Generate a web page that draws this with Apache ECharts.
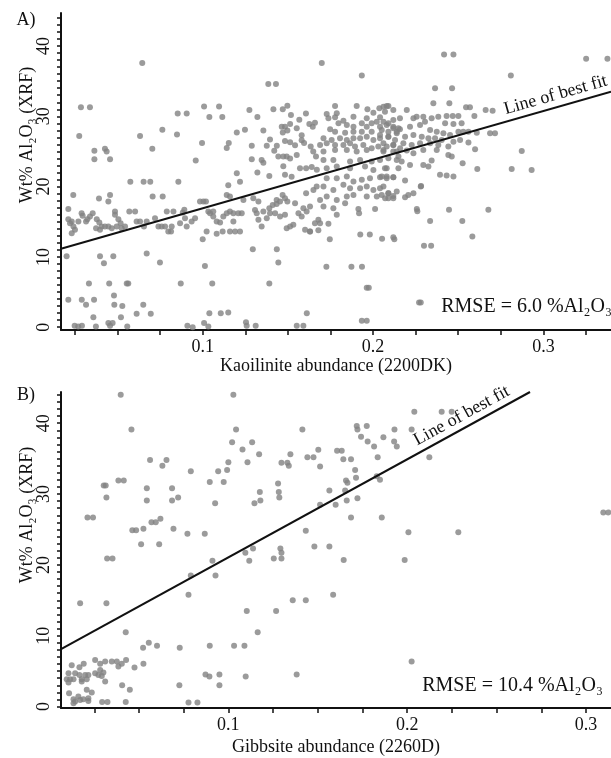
<!DOCTYPE html>
<html>
<head>
<meta charset="utf-8">
<title>Al2O3 vs kaolinite / gibbsite abundance</title>
<script src="https://cdn.jsdelivr.net/npm/echarts@6/dist/echarts.min.js"></script>
<style>
  html, body { margin: 0; padding: 0; background: #fff; }
  #chart { width: 611px; height: 758px; }
</style>
</head>
<body>
<div id="chart"></div>
<script>
// panel A: kaolinite abundance (2200DK) vs Wt% Al2O3 (XRF), [x, y]
var kaolinitePts = [
  [0.0645,37.6],[0.0275,27.2],[0.0285,31.3],[0.0338,31.3],[0.0364,25.1],[0.0364,23.9],[0.0426,25.4],[0.0436,25.0],
  [0.0456,23.9],[0.0632,27.2],[0.0704,25.4],[0.0763,28.1],[0.0849,27.4],[0.0853,30.4],[0.0906,30.4],[0.1008,31.4],
  [0.1039,29.9],[0.1096,31.4],[0.1115,29.9],[0.0996,26.2],[0.0959,23.7],[0.0575,20.7],[0.0653,20.7],[0.0692,20.7],
  [0.0857,20.7],[0.024,18.8],[0.0391,18.3],[0.0456,18.8],[0.0706,18.6],[0.0765,18.6],[0.1141,25.5],[0.1153,26.2],
  [0.12,27.7],[0.1248,28.1],[0.115,20.2],[0.1219,20.7],[0.12,21.9],[0.1274,30.9],[0.1321,29.9],[0.1288,25.8],
  [0.1288,23.9],[0.1321,22.0],[0.1385,34.6],[0.143,34.6],[0.1356,28.0],[0.1346,23.8],[0.1356,23.4],[0.1415,31.0],
  [0.147,31.0],[0.1497,31.5],[0.1395,26.7],[0.1376,25.8],[0.1435,25.8],[0.142,25.1],[0.1444,24.3],[0.1391,21.5],
  [0.1464,28.5],[0.147,27.7],[0.1483,28.5],[0.1497,28.0],[0.1518,30.2],[0.1513,28.9],[0.1483,26.5],[0.1513,26.3],
  [0.1473,24.3],[0.1493,24.3],[0.1513,24.0],[0.1473,22.9],[0.1483,21.7],[0.1522,21.4],[0.1552,28.3],[0.1567,29.5],
  [0.1606,30.4],[0.1542,25.9],[0.1552,24.5],[0.1581,27.3],[0.1581,26.6],[0.1595,26.2],[0.1571,22.6],[0.1607,22.6],
  [0.1626,28.9],[0.1646,28.5],[0.1659,29.1],[0.1634,25.7],[0.1649,25.0],[0.1665,24.3],[0.164,22.8],[0.167,22.4],
  [0.1699,37.6],[0.1934,35.8],[0.2417,38.8],[0.2472,38.8],[0.3251,38.2],[0.3376,38.2],[0.2809,35.8],[0.2364,34.0],
  [0.2464,34.0],
  [0.2677,16.7],[0.2446,16.7],[0.2524,15.1],[0.2583,12.9],[0.2335,15.1],[0.2299,11.6],[0.2341,11.6],[0.2257,16.8],
  [0.226,16.5],[0.2282,20.1],[0.2119,12.8],[0.2125,12.5],[0.2053,12.6],[0.1925,13.2],[0.1981,13.2],[0.2012,16.8],
  [0.1914,16.8],[0.1918,16.2],[0.1746,12.5],[0.1726,8.6],[0.1873,8.6],[0.1935,8.6],[0.1963,5.6],[0.1975,5.6],
  [0.227,3.5],[0.228,3.5],[0.1934,0.9],[0.1963,0.9],[0.163,13.6],[0.1679,13.8],[0.1689,14.8],[0.1738,14.7],
  [0.1787,16.0],
  [0.2188,20.86],[0.228,20.01],[0.2061,20.01],[0.2051,18.82],[0.209,19.06],[0.2119,18.68],[0.209,18.35],[0.2188,18.49],
  [0.2207,18.82],[0.2237,19.06],
  [0.0201,10.1],[0.0211,16.8],[0.0211,3.9],[0.029,3.9],[0.0315,3.2],[0.0362,3.9],[0.0332,6.2],[0.0397,10.1],
  [0.042,9.1],[0.0475,10.1],[0.0451,6.2],[0.0479,4.5],[0.0481,3.2],[0.0528,3.0],[0.052,1.4],[0.0358,1.4],
  [0.0554,6.2],[0.0563,6.2],[0.0612,1.9],[0.0651,3.2],[0.0695,1.9],[0.0671,10.5],[0.0749,9.2],[0.0871,6.2],
  [0.0248,0.2],[0.0269,0.1],[0.0291,0.2],[0.0373,0.1],[0.0446,0.6],[0.0456,0.2],[0.0471,0.6],[0.0557,0.1],
  [0.091,0.2],[0.0941,0.0],[0.1013,8.7],[0.1008,0.6],[0.1033,0.1],[0.1039,2.0],[0.1056,6.2],[0.1106,2.0],
  [0.115,2.1],[0.1254,0.7],[0.1258,0.2],[0.1311,0.2],[0.1294,11.1],[0.1435,11.1],[0.1444,9.2],[0.1391,6.2],
  [0.1552,0.2],[0.1591,0.2],[0.1611,2.0],[0.1,12.5],[0.1023,13.6],[0.1082,13.3],[0.1117,13.6],[0.0867,14.8],
  [0.0883,16.3],[0.0892,16.7],[0.0814,13.6],
  [0.0211,15.36],[0.0231,15.03],[0.0221,14.79],[0.0241,14.32],[0.025,13.85],[0.0231,13.37],[0.027,15.03],[0.0289,16.22],
  [0.0295,15.84],[0.0315,15.03],[0.0323,15.36],[0.0338,15.74],[0.0354,16.22],[0.0378,15.36],[0.0393,14.89],[0.0407,14.32],
  [0.0374,14.08],[0.0397,13.85],[0.0426,14.32],[0.0446,14.32],[0.0466,14.08],[0.0446,17.87],[0.0485,16.45],[0.0485,15.98],
  [0.0505,15.36],[0.0518,14.79],[0.0495,14.32],[0.0524,14.08],[0.0544,14.32],[0.0569,16.45],[0.0603,16.45],[0.0612,15.03],
  [0.0632,15.03],[0.0655,14.32],[0.0671,15.03],[0.072,15.5],[0.074,14.32],[0.0759,14.32],[0.0779,14.32],[0.0789,16.45],
  [0.0798,13.61],[0.0818,14.32],[0.0828,16.45],[0.0896,15.5],[0.0906,14.32],[0.0935,15.03],[0.0955,15.5],
  [0.0984,17.87],[0.1004,17.87],[0.1019,17.87],[0.1033,16.45],[0.1043,16.22],[0.1062,16.45],[0.1062,15.74],[0.1082,15.03],
  [0.1102,14.89],[0.1121,15.74],[0.1141,16.22],[0.116,16.45],[0.118,15.03],[0.118,16.22],[0.1141,18.82],[0.116,18.58],
  [0.1209,16.22],[0.1229,16.22],[0.116,13.61],[0.119,13.61],[0.1219,13.61],[0.1239,18.11],[0.1297,18.35],[0.1327,17.87],
  [0.1307,16.69],[0.1317,16.22],[0.1356,16.45],[0.1327,15.27],[0.1346,14.32],[0.1376,15.5],[0.1391,16.92],[0.1411,17.4],
  [0.1434,18.11],[0.1434,17.54],[0.1454,17.87],[0.1469,18.82],[0.1483,18.35],[0.1497,17.87],[0.1395,16.22],[0.1425,16.22],
  [0.1454,15.74],[0.1483,15.98],[0.1493,14.08],[0.1513,14.32],[0.1532,14.56],[0.1542,17.64],[0.1562,16.22],[0.1581,15.74],
  [0.1591,16.92],[0.161,16.45],[0.163,17.16],[0.1601,13.85],[0.163,13.61],[0.1659,14.79],[0.1679,15.27],[0.165,19.53],
  [0.1669,20.0],[0.1607,19.06],
  [0.1777,31.47],[0.1787,30.43],[0.1728,30.33],[0.1738,29.72],[0.1777,29.86],[0.1904,31.47],[0.1967,30.99],[0.2002,30.52],
  [0.2037,31.14],[0.209,31.47],[0.2119,30.9],[0.2041,29.86],[0.1963,29.72],[0.1934,29.0],[0.1885,29.95],[0.1826,29.38],
  [0.1797,29.0],[0.1846,28.77],[0.1885,28.53],[0.1963,28.53],[0.1992,29.0],[0.2022,29.24],[0.2061,29.24],[0.209,29.0],
  [0.2119,28.53],[0.2149,28.29],[0.1748,28.15],[0.1777,27.82],[0.1836,27.68],[0.1885,27.82],[0.1934,27.82],[0.1992,27.82],
  [0.2051,28.06],[0.209,27.82],[0.2139,27.82],[0.1709,26.87],[0.1757,26.64],[0.1806,26.87],[0.1846,26.64],[0.1885,26.87],
  [0.1924,26.87],[0.1963,27.11],[0.2002,26.64],[0.2041,26.87],[0.209,27.11],[0.2129,26.64],[0.1689,25.93],[0.1728,26.16],
  [0.1777,25.93],[0.1826,25.93],[0.1865,26.16],[0.1894,25.69],[0.1943,25.93],[0.1992,25.45],[0.2031,25.69],[0.208,25.69],
  [0.2119,25.93],[0.2159,25.45],[0.1709,24.98],[0.1777,25.22],[0.1846,25.22],[0.1904,24.98],[0.1963,25.22],[0.2061,25.22],
  [0.2119,24.98],[0.1709,23.8],[0.1767,23.8],[0.1865,23.56],[0.1924,23.8],[0.1992,23.56],[0.2041,23.8],[0.209,24.03],
  [0.2149,24.27],[0.1728,22.61],[0.1787,22.85],[0.1865,22.61],[0.1953,22.85],[0.2002,22.38],[0.208,22.61],[0.1728,21.19],
  [0.1787,21.19],[0.1846,21.43],[0.1885,20.72],[0.1934,20.96],[0.1982,21.19],[0.2041,21.33],[0.208,21.43],[0.2119,21.33],
  [0.1709,20.01],[0.1767,19.53],[0.1826,20.25],[0.1865,19.77],[0.1924,19.77],[0.1963,20.01],[0.2002,19.53],[0.2041,19.77],
  [0.209,19.06],[0.2139,19.3],[0.1689,18.11],[0.1728,18.59],[0.1787,18.11],[0.1846,18.59],[0.1885,18.82],[0.1963,18.59],
  [0.2022,18.59],[0.2071,18.35],[0.2119,18.35],[0.1709,17.17],[0.1767,16.93],[0.1836,17.64],
  [0.2061,31.37],[0.208,31.47],[0.207,30.66],[0.2119,29.48],[0.2158,29.72],[0.2198,30.9],[0.2237,29.72],[0.2256,29.95],
  [0.2295,29.95],[0.2305,29.24],[0.2344,29.72],[0.2383,29.95],[0.2432,30.05],[0.2468,30.05],[0.2501,30.05],[0.2423,29.0],
  [0.2472,28.91],[0.252,29.0],[0.2354,31.85],[0.2448,31.85],[0.2546,31.28],[0.2569,31.28],[0.2595,30.05],[0.2661,30.9],
  [0.2702,30.8],[0.253,27.82],[0.256,27.82],[0.2609,27.68],[0.2687,27.58],[0.2716,27.58],[0.2041,28.53],[0.208,28.77],
  [0.2119,28.29],[0.2158,28.15],[0.2217,28.53],[0.2276,28.77],[0.2335,28.06],[0.2374,27.82],[0.2413,27.58],[0.2452,27.35],
  [0.2501,27.82],[0.2041,27.35],[0.209,27.11],[0.2139,27.58],[0.2188,27.11],[0.2237,27.35],[0.2286,27.11],[0.2325,26.87],
  [0.2364,26.87],[0.2403,26.64],[0.2472,26.4],[0.2511,26.64],[0.256,26.26],[0.2061,26.16],[0.2119,25.93],[0.2178,26.16],
  [0.2227,25.93],[0.2276,26.16],[0.2335,26.16],[0.2383,25.93],[0.2442,25.69],[0.2599,25.31],[0.2873,25.08],[0.2061,24.98],
  [0.2139,24.98],[0.2198,25.12],[0.2237,24.74],[0.2295,25.22],[0.2374,25.22],[0.2442,24.51],[0.2462,24.27],[0.2139,23.8],
  [0.2168,23.56],[0.2217,23.09],[0.2295,23.09],[0.2325,22.85],[0.2344,23.7],[0.2526,23.32],[0.2612,22.52],[0.2814,22.52],
  [0.2931,22.38],[0.207,22.61],[0.2149,22.61],[0.2393,21.67],[0.2432,21.57],[0.2472,21.43],[0.2051,21.43],[0.208,21.19],
  [0.2119,21.33]
];

// panel B: gibbsite abundance (2260D) vs Wt% Al2O3 (XRF), [x, y]
var gibbsitePts = [
  [0.0398,44.0],[0.1028,44.0],[0.0458,39.1],[0.1043,39.1],[0.1414,39.1],[0.1021,37.3],[0.1133,37.3],[0.1079,36.3],
  [0.1172,35.6],[0.1347,35.6],[0.1442,35.2],[0.1476,35.2],[0.0562,34.8],[0.0654,34.8],[0.0631,34.0],[0.1,34.5],
  [0.1107,34.5],[0.1297,34.4],[0.133,34.4],[0.1338,34.0],[0.079,33.2],[0.0943,33.2],[0.0993,33.4],[0.0896,31.7],
  [0.0974,31.7],[0.1278,31.5],[0.0385,31.9],[0.0415,31.9],[0.0303,31.2],[0.0314,31.2],[0.0318,29.5],[0.0544,30.8],
  [0.0544,29.1],[0.0685,30.8],[0.0685,29.1],[0.0719,29.5],[0.0926,28.7],[0.1176,30.3],[0.1146,28.7],[0.1179,29.1],
  [0.1282,30.3],[0.1285,29.5],[0.0212,26.7],[0.0243,26.7],[0.057,26.0],[0.0594,26.0],[0.062,26.5],[0.0463,24.9],
  [0.0484,24.9],[0.0525,25.1],[0.0693,25.1],[0.0771,24.4],[0.0868,24.4],[0.0512,22.9],[0.0613,22.9],[0.0322,20.9],
  [0.0352,20.9],[0.0911,20.6],[0.079,18.5],[0.0928,18.5],[0.0777,15.8],[0.0171,14.6],[0.0318,14.6],[0.0426,10.5],
  [0.0523,8.29],[0.0555,9.0],[0.0601,8.57],[0.0728,8.29],[0.0896,8.57],[0.1032,8.57],[0.109,8.57],[0.1433,24.8],
  [0.1481,22.6],[0.1095,21.7],[0.1138,22.3],[0.1117,20.6],[0.1254,20.9],[0.1297,20.9],[0.1291,22.3],[0.1297,21.7],
  [0.136,15.0],[0.1433,15.0],[0.1103,13.5],[0.1267,13.5],[0.1164,10.5],[0.1382,4.52],[0.0872,4.52],[0.0894,4.24],
  [0.095,4.52],[0.1097,4.24],[0.0726,3.0],[0.095,3.0],[0.0777,0.57],[0.0827,0.57],[0.0294,0.66],[0.0324,0.66],
  [0.0426,0.66],[0.0406,3.0],[0.0449,2.36],[0.0475,5.51],[0.0525,6.03],
  [0.0124,5.84],[0.0167,5.56],[0.0191,6.03],[0.0106,4.71],[0.0143,4.71],[0.0167,4.47],[0.0199,4.47],[0.0217,4.47],
  [0.0096,3.86],[0.0115,3.86],[0.0134,3.86],[0.018,3.86],[0.0208,3.86],[0.0106,3.39],[0.018,3.53],[0.0109,1.88],
  [0.0208,2.36],[0.0236,1.98],[0.0134,1.04],[0.0161,1.41],[0.0189,1.04],[0.0217,1.18],[0.0143,0.71],[0.0171,0.94],
  [0.0217,0.8],[0.0134,0.47],[0.0255,6.59],[0.0283,6.03],[0.0311,6.36],[0.0348,6.36],[0.0376,6.36],[0.0385,5.65],
  [0.0404,6.03],[0.0428,6.59],[0.0255,4.71],[0.0273,4.47],[0.0292,4.33],[0.0301,4.8],[0.0311,3.53],[0.0283,5.18],
  [0.1503,36.25],[0.1608,36.1],[0.1634,36.1],[0.1718,39.6],[0.1722,39.1],[0.1774,39.6],[0.1742,38.1],[0.1779,37.4],
  [0.1815,36.7],[0.1867,38.0],[0.1929,39.1],[0.1927,37.4],[0.1942,36.7],[0.2025,39.1],[0.204,41.6],[0.2193,41.6],
  [0.2249,41.6],[0.1643,34.9],[0.1686,34.9],[0.1835,35.2],[0.2124,35.2],[0.1513,33.9],[0.1709,33.4],[0.1714,32.3],
  [0.1658,31.9],[0.1666,31.6],[0.183,32.5],[0.1848,32.0],[0.1565,30.5],[0.1653,30.5],[0.16,28.5],[0.1662,29.1],
  [0.1722,29.4],[0.1513,28.5],[0.1686,26.7],[0.1858,26.7],[0.2007,24.6],[0.2286,24.6],[0.1565,22.6],[0.1645,20.7],
  [0.1986,20.7],[0.3097,27.4],[0.3125,27.4],[0.1586,15.8],[0.2025,6.36]
];

// best-fit line end points
var fitA = [[0.0168, 11.15], [0.3397, 33.5]];
var fitB = [[0.0064, 8.1], [0.2687, 44.4]];

// ticks
var xTicksA = [0.025, 0.05, 0.075, 0.1, 0.125, 0.15, 0.175, 0.2, 0.225, 0.25, 0.275, 0.3, 0.325];
var xTicksB = [0.025, 0.05, 0.075, 0.1, 0.125, 0.15, 0.175, 0.2, 0.225, 0.25, 0.275, 0.3];
var xLabels = [0.1, 0.2, 0.3];
var yTicks = [0,1,2,3,4,5,6,7,8,9,10,11,12,13,14,15,16,17,18,19,20,21,22,23,24,25,26,27,28,29,30,
  31,32,33,34,35,36,37,38,39,40,41,42,43,44];
var yLabels = [0, 10, 20, 30, 40];

var serif = '"Liberation Serif", "DejaVu Serif", serif';
var ink = '#111';
var dotColor = '#828282';

var chart = echarts.init(document.getElementById('chart'));

function xAxis (grid, min, max, ticks, name, gap) {
  return {
    gridIndex: grid,
    type: 'value',
    min: min,
    max: max,
    name: name,
    nameLocation: 'middle',
    nameGap: gap,
    nameTextStyle: {color: ink, fontFamily: serif, fontSize: 18},
    axisLine: {onZero: false, lineStyle: {color: ink, width: 2}},
    axisTick: {show: true, length: 5, customValues: ticks, lineStyle: {color: ink, width: 1.5}},
    axisLabel: {
      customValues: xLabels, margin: 8, color: ink, fontFamily: serif, fontSize: 18,
      formatter: function (v) { return v.toFixed(1) }
    },
    splitLine: {show: false}
  }
}

function yAxis (grid, min, max) {
  return {
    gridIndex: grid,
    type: 'value',
    min: min,
    max: max,
    axisLine: {show: true, onZero: false, lineStyle: {color: ink, width: 2}},
    axisTick: {show: true, length: 4, customValues: yTicks, lineStyle: {color: ink, width: 1.5}},
    axisLabel: {customValues: yLabels, rotate: 90, margin: 8, color: ink, fontFamily: serif, fontSize: 18},
    splitLine: {show: false}
  }
}

function fitLine (pts, dist) {
  return {
    silent: true,
    animation: false,
    symbol: ['none', 'none'],
    lineStyle: {color: ink, width: 2, type: 'solid'},
    emphasis: {disabled: true},
    label: {
      show: true,
      position: 'insideEndTop',
      formatter: 'Line of best fit',
      color: ink,
      fontFamily: serif,
      fontSize: 18,
      distance: dist
    },
    data: [[{coord: pts[0]}, {coord: pts[1]}]]
  }
}

function txt (x, y, s, align, rot, size) {
  return {
    type: 'text',
    x: x,
    y: y,
    rotation: rot || 0,
    style: {text: s, font: (size || 18) + 'px ' + serif, fill: ink, align: align || 'center', verticalAlign: 'middle'}
  }
}

chart.setOption({
  animation: false,
  backgroundColor: '#fff',
  grid: [
    {left: 61, top: 13, width: 550, height: 317, outerBoundsMode: 'none'},
    {left: 61, top: 392, width: 550, height: 316, outerBoundsMode: 'none'}
  ],
  xAxis: [
    xAxis(0, 0.0168, 0.3397, xTicksA, 'Kaoilinite abundance (2200DK)', 22),
    xAxis(1, 0.0064, 0.314, xTicksB, 'Gibbsite abundance (2260D)', 30)
  ],
  yAxis: [
    yAxis(0, -0.4, 44.7),
    yAxis(1, -0.2, 44.4)
  ],
  series: [
    {
      type: 'scatter',
      xAxisIndex: 0,
      yAxisIndex: 0,
      data: kaolinitePts,
      symbolSize: 6,
      itemStyle: {color: dotColor},
      silent: true,
      markLine: fitLine(fitA, [1, 3])
    },
    {
      type: 'scatter',
      xAxisIndex: 1,
      yAxisIndex: 1,
      data: gibbsitePts,
      symbolSize: 6,
      itemStyle: {color: dotColor},
      silent: true,
      markLine: fitLine(fitB, [18, 3])
    }
  ],
  graphic: [
    txt(26, 20, 'A)'),
    txt(26, 395, 'B)'),
    txt(27, 135, 'Wt% Al\u2082O\u2083 (XRF)', 'center', Math.PI / 2),
    txt(27, 515, 'Wt% Al\u2082O\u2083 (XRF)', 'center', Math.PI / 2),
    txt(612, 307, 'RMSE = 6.0 %Al\u2082O\u2083', 'right', 0, 20),
    txt(603, 686, 'RMSE = 10.4 %Al\u2082O\u2083', 'right', 0, 20)
  ]
})
</script>
</body>
</html>
